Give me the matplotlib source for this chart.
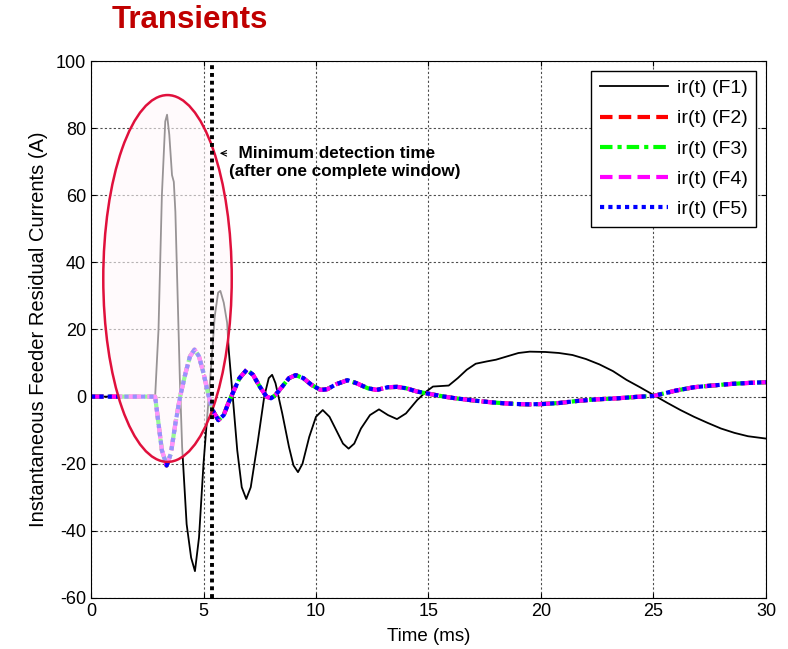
import numpy as np
import matplotlib.pyplot as plt
from matplotlib.patches import Ellipse

plt.rcParams['font.family'] = ['Liberation Sans', 'DejaVu Sans']
plt.rcParams['axes.unicode_minus'] = False

# F1 residual current (black)
t1 = [0, 1, 2, 2.85, 3.0, 3.15, 3.3, 3.38, 3.48, 3.6, 3.68, 3.75, 3.85, 3.95,
      4.05, 4.25, 4.45, 4.62, 4.8, 5.0, 5.2, 5.35, 5.5, 5.65, 5.75, 5.9, 6.05,
      6.12, 6.3, 6.5, 6.7, 6.9, 7.1, 7.4, 7.7, 7.9, 8.05, 8.2, 8.5, 8.8, 9.0,
      9.2, 9.4, 9.7, 10.0, 10.3, 10.6, 10.9, 11.2, 11.45, 11.7, 12.0, 12.4,
      12.8, 13.2, 13.6, 14.0, 14.5, 14.9, 15.2, 15.9, 16.3, 16.7, 17.1, 17.6,
      18.0, 18.5, 19.0, 19.5, 20.2, 20.8, 21.4, 22.0, 22.6, 23.2, 23.8, 24.4,
      25.0, 25.6, 26.2, 26.8, 27.4, 28.0, 28.6, 29.2, 30]
i1 = [0, 0, 0, 0, 20, 60, 82, 84, 78, 66, 64, 55, 30, 5,
      -15, -38, -48, -52, -42, -20, -3, 10, 24, 31, 31.5, 28, 22,
      14, 0, -16, -27, -30.5, -27, -14, 0, 5.5, 6.5, 4, -5, -15, -20.5,
      -22.5, -20, -12, -6, -4, -6, -10, -14, -15.5, -14, -9.5, -5.5,
      -3.8, -5.5, -6.7, -5, -1, 1.5, 3, 3.3, 5.5, 8, 9.8, 10.5,
      11, 12, 13, 13.4, 13.3, 13, 12.4, 11.2, 9.6, 7.6, 5, 2.8,
      0.5, -1.8, -4, -6, -7.8, -9.5, -10.8, -11.8, -12.5]

# F2..F5 residual currents (identical traces)
t2 = [0, 1, 2, 2.85, 3.0, 3.15, 3.36, 3.55, 3.75, 3.96, 4.2, 4.4, 4.6, 4.8,
      5.0, 5.2, 5.4, 5.66, 5.9, 6.1, 6.33, 6.6, 6.92, 7.2, 7.5, 7.8, 8.0,
      8.2, 8.5, 8.8, 9.1, 9.44, 9.8, 10.2, 10.5, 10.9, 11.4, 11.8, 12.3,
      12.7, 13.2, 13.6, 14.0, 14.5, 14.9, 15.3, 15.7, 16.2, 16.7, 17.2, 17.8,
      18.4, 18.9, 19.5, 20.1, 20.8, 21.6, 22.5, 23.4, 24.2, 25.0, 25.5, 26.0,
      26.8, 27.6, 28.5, 29.3, 30]
i2 = [0, 0, 0, 0, -8, -16, -20.5, -17, -8, 0, 7, 12, 14, 12,
      7, 1, -4, -7, -5.5, -2, 1.5, 5.5, 8, 6.5, 3, 0, -0.5,
      0.5, 3, 5.5, 6.4, 5.5, 3.5, 2, 2.2, 3.7, 4.9, 4, 2.5,
      2, 2.8, 2.9, 2.5, 1.5, 1, 0.5, 0, -0.5, -0.9, -1.3, -1.7,
      -2, -2.2, -2.3, -2.2, -1.9, -1.3, -0.8, -0.5, -0.1, 0.2, 1, 1.8,
      2.8, 3.3, 3.8, 4.1, 4.3]

labels = ['ir(t) (F1)', 'ir(t) (F2)', 'ir(t) (F3)', 'ir(t) (F4)', 'ir(t) (F5)']
t_detect = 5.4

fig = plt.figure(figsize=(7.88, 6.49), dpi=100)
ax = fig.add_axes([0.1155, 0.0786, 0.8565, 0.8274])

ax.plot(t1, i1, color='black', lw=1.3, label=labels[0])
ax.plot(t2, i2, color='red', lw=3, ls=(0, (3, 1.5)), label=labels[1])
ax.plot(t2, i2, color='#00ff00', lw=3, ls=(0, (3, 1.2, 1, 1.2)), label=labels[2])
ax.plot(t2, i2, color='magenta', lw=3, ls=(0, (3, 1.5)), label=labels[3])
ax.plot(t2, i2, color='blue', lw=3, ls=(0, (1, 1)), label=labels[4])

# highlighted transient region
ell = Ellipse((3.4, 35.2), 5.71, 109.3, facecolor=(1, 0.97, 0.98, 0.6),
              edgecolor='#e0103c', lw=1.8, zorder=5)
ax.add_patch(ell)

ax.axvline(t_detect, color='black', lw=2.8, ls=(0, (1, 1)), zorder=6)
ax.annotate('', xy=(5.6, 72.5), xytext=(6.15, 72.5),
            arrowprops=dict(arrowstyle='->', lw=0.8, color='black'), zorder=7)
ax.text(6.15, 69.8, '  Minimum detection time\n(after one complete window)',
        fontsize=12.3, fontweight='bold', ha='left', va='center',
        linespacing=1.2, zorder=7)

ax.set_xlim(0, 30)
ax.set_ylim(-60, 100)
ax.set_xticks(np.arange(0, 31, 5))
ax.set_yticks(np.arange(-60, 101, 20))
ax.grid(True, color='0.3', ls=(0, (2, 2)), lw=0.8)
ax.tick_params(direction='in', top=True, right=True, labelsize=13)
ax.set_xlabel('Time (ms)', fontsize=13.5, labelpad=6)
ax.set_ylabel('Instantaneous Feeder Residual Currents (A)', fontsize=14.5, labelpad=6)

leg = ax.legend(loc='upper right', fontsize=14, handlelength=3.5,
                handletextpad=0.45, fancybox=False, edgecolor='black',
                framealpha=1, borderaxespad=0.5, labelspacing=0.65,
                borderpad=0.45)
leg.get_frame().set_linewidth(1)

fig.text(0.142, 0.969, 'Transients', color='#c00000', fontsize=22.5,
         fontweight='bold', ha='left', va='center')

fig.savefig('out.png', dpi=100)
